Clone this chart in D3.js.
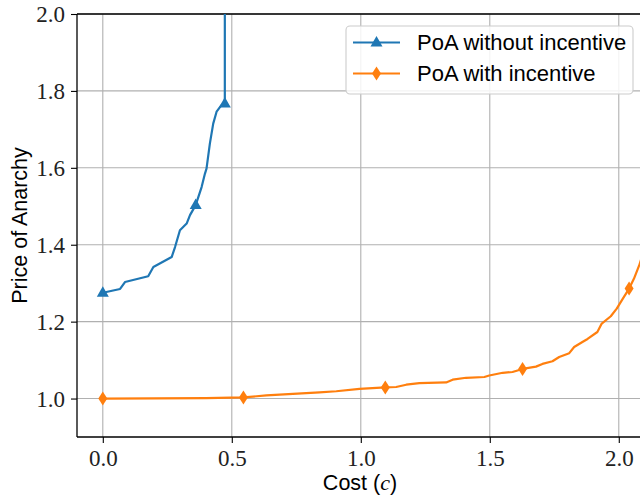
<!DOCTYPE html>
<html>
<head>
<meta charset="utf-8">
<script src="https://cdn.jsdelivr.net/npm/d3@7"></script>
<style>
  html, body { margin: 0; padding: 0; background: #fff; }
  svg { display: block; }
</style>
</head>
<body>
<svg id="chart" width="640" height="497"></svg>
<script>
// ---- data ----
const xTicks = [0.0, 0.5, 1.0, 1.5, 2.0];
const yTicks = [1.0, 1.2, 1.4, 1.6, 1.8, 2.0];
const seriesNames = ["PoA without incentive", "PoA with incentive"];

const noIncX = [0, 0.067, 0.086, 0.176, 0.196, 0.267, 0.28, 0.299, 0.325, 0.338, 0.36, 0.383, 0.396, 0.402, 0.415, 0.428, 0.441, 0.46, 0.473, 0.473];
const noIncY = [1.275, 1.285, 1.303, 1.318, 1.342, 1.368, 1.394, 1.4375, 1.455, 1.477, 1.503, 1.55, 1.585, 1.598, 1.663, 1.715, 1.746, 1.763, 1.767, 2.3];
const noIncMarkers = [0, 10, 18];

const incX = [0, 0.4, 0.545, 0.634, 0.84, 0.905, 0.995, 1.095, 1.137, 1.176, 1.227, 1.331, 1.356, 1.408, 1.479, 1.498, 1.55, 1.588, 1.627, 1.679, 1.704, 1.743, 1.769, 1.808, 1.827, 1.859, 1.879, 1.917, 1.934, 1.969, 1.992, 2.017, 2.04, 2.059, 2.079, 2.1];
const incY = [1.0, 1.001, 1.003, 1.008, 1.016, 1.019, 1.025, 1.029, 1.030, 1.036, 1.040, 1.042, 1.049, 1.054, 1.056, 1.060, 1.067, 1.069, 1.077, 1.083, 1.090, 1.097, 1.108, 1.118, 1.134, 1.147, 1.155, 1.173, 1.195, 1.214, 1.234, 1.261, 1.286, 1.312, 1.346, 1.39];
const incMarkers = [0, 2, 7, 18, 32];

// ---- layout ----
const L = 77, R = 642, T = 14, B = 437;
const blue = "#1f77b4", orange = "#ff7f0e";

const svg = d3.select("#chart");
const x = d3.scaleLinear().domain([-0.1, 2.09]).range([L, R]);
const y = d3.scaleLinear().domain([0.9, 2.0]).range([B, T]);

svg.append("defs").append("clipPath").attr("id", "clip")
  .append("rect").attr("x", L).attr("y", T).attr("width", R - L).attr("height", B - T);

// grid
const grid = svg.append("g");
grid.selectAll(".gx").data(xTicks).enter().append("line")
  .attr("x1", d => x(d)).attr("x2", d => x(d)).attr("y1", T).attr("y2", B)
  .attr("stroke", "#b0b0b0").attr("stroke-width", 1.1);
grid.selectAll(".gy").data(yTicks).enter().append("line")
  .attr("x1", L).attr("x2", R).attr("y1", d => y(d)).attr("y2", d => y(d))
  .attr("stroke", "#b0b0b0").attr("stroke-width", 1.1);

// axes
const fmt = d3.format(".1f");
const xAxis = svg.append("g").attr("transform", `translate(0,${B})`)
  .call(d3.axisBottom(x).tickValues(xTicks).tickFormat(fmt).tickSizeOuter(0).tickSize(6).tickPadding(6));
const yAxis = svg.append("g").attr("transform", `translate(${L},0)`)
  .call(d3.axisLeft(y).tickValues(yTicks).tickFormat(fmt).tickSizeOuter(0).tickSize(6).tickPadding(6));
[xAxis, yAxis].forEach(a => {
  a.select(".domain").remove();
  a.selectAll(".tick line").attr("stroke", "#000").attr("stroke-width", 1.1);
  a.selectAll(".tick text").attr("fill", "#222")
    .style("font-family", "'Liberation Serif', 'DejaVu Serif', serif").style("font-size", "23px");
});
xAxis.selectAll(".tick text").attr("dy", "0.75em");
yAxis.selectAll(".tick text").attr("dy", "0.33em");

// spines
svg.append("line").attr("x1", L).attr("x2", L).attr("y1", T).attr("y2", B).attr("stroke", "#000").attr("stroke-width", 1.3);
svg.append("line").attr("x1", L).attr("x2", R).attr("y1", B).attr("y2", B).attr("stroke", "#000").attr("stroke-width", 1.3);
svg.append("line").attr("x1", L).attr("x2", R).attr("y1", T).attr("y2", T).attr("stroke", "#000").attr("stroke-width", 1.3);
svg.append("line").attr("x1", R).attr("x2", R).attr("y1", T).attr("y2", B).attr("stroke", "#000").attr("stroke-width", 1.3);

// lines
const plot = svg.append("g").attr("clip-path", "url(#clip)");
const line = d3.line().x(d => x(d[0])).y(d => y(d[1]));
const noInc = noIncX.map((v, i) => [v, noIncY[i]]);
const inc = incX.map((v, i) => [v, incY[i]]);

plot.append("path").attr("d", line(noInc)).attr("fill", "none").attr("stroke", blue)
  .attr("stroke-width", 2.2).attr("stroke-linejoin", "round");
plot.append("path").attr("d", line(inc)).attr("fill", "none").attr("stroke", orange)
  .attr("stroke-width", 2.2).attr("stroke-linejoin", "round");

const triPath = "M0,-6.5 L6,4 L-6,4 Z";
const diaPath = "M0,-7 L4.5,0 L0,7 L-4.5,0 Z";

plot.selectAll(".mb").data(noIncMarkers.map(i => noInc[i])).enter().append("path")
  .attr("d", triPath).attr("fill", blue)
  .attr("transform", d => `translate(${x(d[0])},${y(d[1])})`);
plot.selectAll(".mo").data(incMarkers.map(i => inc[i])).enter().append("path")
  .attr("d", diaPath).attr("fill", orange)
  .attr("transform", d => `translate(${x(d[0])},${y(d[1])})`);

// axis labels
svg.append("text").attr("x", 360).attr("y", 490).attr("text-anchor", "middle")
  .style("font-family", "'Liberation Sans', Arial, sans-serif").style("font-size", "21.5px").attr("fill", "#000")
  .call(t => {
    t.append("tspan").text("Cost (");
    t.append("tspan").text("c").style("font-family", "'Liberation Serif', serif").style("font-style", "italic").style("font-size", "22px");
    t.append("tspan").text(")");
  });
svg.append("text").attr("transform", `translate(27,${(T + B) / 2}) rotate(-90)`).attr("text-anchor", "middle")
  .style("font-family", "'Liberation Sans', Arial, sans-serif").style("font-size", "21.5px").attr("fill", "#000")
  .text("Price of Anarchy");

// legend
const lg = svg.append("g");
lg.append("rect").attr("x", 346).attr("y", 26).attr("width", 287).attr("height", 68)
  .attr("rx", 4).attr("fill", "rgba(255,255,255,0.85)").attr("stroke", "#cccccc").attr("stroke-width", 1.1);
const items = [
  { name: seriesNames[0], color: blue, marker: triPath, cy: 42.5 },
  { name: seriesNames[1], color: orange, marker: diaPath, cy: 73.5 }
];
items.forEach(it => {
  lg.append("line").attr("x1", 353).attr("x2", 400).attr("y1", it.cy).attr("y2", it.cy)
    .attr("stroke", it.color).attr("stroke-width", 2.2);
  lg.append("path").attr("d", it.marker).attr("fill", it.color)
    .attr("transform", `translate(376.5,${it.cy})`);
  lg.append("text").attr("x", 417).attr("y", it.cy + 7.8)
    .style("font-family", "'Liberation Sans', Arial, sans-serif").style("font-size", "22px").attr("fill", "#000")
    .text(it.name);
});
</script>
</body>
</html>
